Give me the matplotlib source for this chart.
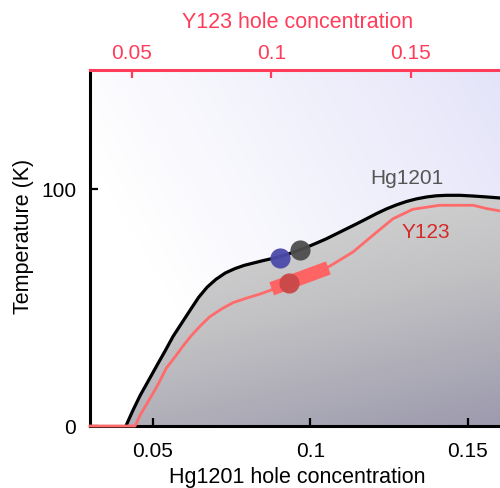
import numpy as np
import matplotlib.pyplot as plt
from matplotlib.colors import LinearSegmentedColormap

plt.rcParams['font.family'] = ['Liberation Sans', 'DejaVu Sans']

# Hg1201 dome (bottom axis doping, Tc in K)
hg_x = [0.0414, 0.0436, 0.0459, 0.0486, 0.0512, 0.0538, 0.0564, 0.0592, 0.0619,
        0.0645, 0.0672, 0.0700, 0.0730, 0.0760, 0.0790, 0.0820, 0.0850, 0.0880,
        0.0910, 0.0950, 0.0988, 0.1020, 0.1051, 0.1083, 0.1115, 0.1147, 0.1178,
        0.1210, 0.1242, 0.1274, 0.1305, 0.1337, 0.1369, 0.1400, 0.1432, 0.1475,
        0.1517, 0.1560, 0.1620]
hg_y = [0.0, 6.5, 12.8, 19.2, 25.4, 31.5, 37.8, 43.5, 49.0,
        54.2, 58.5, 61.8, 64.5, 66.3, 67.7, 68.7, 69.7, 70.6,
        71.6, 73.4, 75.3, 77.1, 78.9, 81.0, 83.1, 85.2, 87.3,
        89.5, 91.5, 93.2, 94.6, 95.7, 96.5, 97.0, 97.2, 97.2,
        96.9, 96.5, 95.9]

# Y123 dome, drawn on the same scale
y123_x = [0.030, 0.0443, 0.0459, 0.0490, 0.0512, 0.0543, 0.0575, 0.0596, 0.0620,
          0.0649, 0.0680, 0.0720, 0.0755, 0.0800, 0.0840, 0.0900, 0.1000, 0.1062,
          0.1135, 0.1198, 0.1262, 0.1325, 0.1410, 0.1517, 0.1560, 0.1620]
y123_y = [0.0, 0.0, 4.5, 11.5, 16.5, 24.5, 30.0, 33.8, 37.8,
          42.0, 46.0, 49.5, 52.0, 54.0, 55.6, 58.5, 63.5, 67.4,
          73.3, 80.3, 87.3, 91.3, 93.0, 93.0, 91.6, 90.2]

# measured points
pt_x = [0.0903, 0.0967, 0.0932]
pt_y = [70.9, 74.3, 60.2]
pt_col = ['#4b4bab', '#4d4d4d', '#c94848']

# red band segment
band_x = [0.0877, 0.1057]
band_y = [57.8, 66.6]

xmin, xmax = 0.03, 0.1618
ymin, ymax = 0.0, 150.0

fig = plt.figure(figsize=(5, 4.89), dpi=100)
ax = fig.add_axes([0.18, 0.1268, 0.83, 0.728])
ax.set_xlim(xmin, xmax)
ax.set_ylim(ymin, ymax)

# background gradient: white at lower left, pale blue at upper right
gx, gy = np.meshgrid(np.linspace(0, 1, 200), np.linspace(0, 1, 200))
g = np.clip((gx * 0.8 + gy * 0.4) - 0.3, 0, 1) / 0.9
bg = LinearSegmentedColormap.from_list('bg', ['#ffffff', '#e4e4f9'])
ax.imshow(g, cmap=bg, extent=[xmin, xmax, ymin, ymax], origin='lower',
          aspect='auto', zorder=0, vmin=0, vmax=1)

# gray gradient under the dome: light at the top, darker toward the bottom right
fg = LinearSegmentedColormap.from_list('fg', ['#dcdcdc', '#c2c2c4', '#9c9aad'])
h = np.clip((1 - gy / 0.65) * 0.7 + gx * 0.3, 0, 1)
im = ax.imshow(h, cmap=fg, extent=[xmin, xmax, ymin, ymax], origin='lower',
               aspect='auto', zorder=1, vmin=0, vmax=1)
poly = ax.fill_between(hg_x, hg_y, 0, color='none', lw=0)
im.set_clip_path(poly.get_paths()[0], transform=ax.transData)

ax.plot(hg_x, hg_y, color='black', lw=2.3, zorder=3, solid_joinstyle='round')
ax.plot(y123_x, y123_y, color='#ff6a6a', lw=2.0, zorder=3, clip_on=False,
        solid_joinstyle='round')
ax.plot(band_x, band_y, color='#ff6464', lw=10, solid_capstyle='butt', zorder=4)
for x, y, c in zip(pt_x, pt_y, pt_col):
    ax.plot(x, y, 'o', ms=14.5, color=c, mec='none', zorder=5, alpha=0.95)

ax.text(0.1305, 100.5, 'Hg1201', color='#555555', fontsize=15, ha='center', va='bottom')
ax.text(0.1368, 78, 'Y123', color='#d42a2a', fontsize=15, ha='center', va='bottom')

ax.set_xticks([0.05, 0.1, 0.15])
ax.set_xticklabels(['0.05', '0.1', '0.15'])
ax.set_yticks([0, 100])
ax.tick_params(direction='in', length=6, width=1.6, labelsize=15)
ax.tick_params(axis='x', pad=11)
ax.tick_params(axis='y', pad=10)
ax.set_xlabel('Hg1201 hole concentration', fontsize=15.5)
ax.xaxis.set_label_coords(0.5, -0.143)
ax.xaxis.label.set_va('center')
ax.set_ylabel('Temperature (K)', fontsize=15.5)
ax.yaxis.set_label_coords(-0.161, 0.534)
ax.yaxis.label.set_va('center')
for s in ['left', 'bottom']:
    ax.spines[s].set_linewidth(2.2)
ax.spines['right'].set_visible(False)
ax.spines['top'].set_visible(False)

red = '#ff3d5a'
top = ax.twiny()
top.set_xlim(0.03495, 0.03495 + (xmax - xmin) * 3150 / 2790)
top.set_xticks([0.05, 0.1, 0.15])
top.set_xticklabels(['0.05', '0.1', '0.15'])
top.tick_params(direction='in', length=6, width=1.6, labelsize=15, colors=red, pad=6)
top.set_xlabel('Y123 hole concentration', fontsize=15.5, color=red)
top.xaxis.set_label_coords(0.5, 1.1376)
top.xaxis.label.set_va('center')
top.spines['top'].set_color(red)
top.spines['top'].set_linewidth(2.2)
for s in ['left', 'bottom', 'right']:
    top.spines[s].set_visible(False)

fig.savefig('out.png', dpi=100)
